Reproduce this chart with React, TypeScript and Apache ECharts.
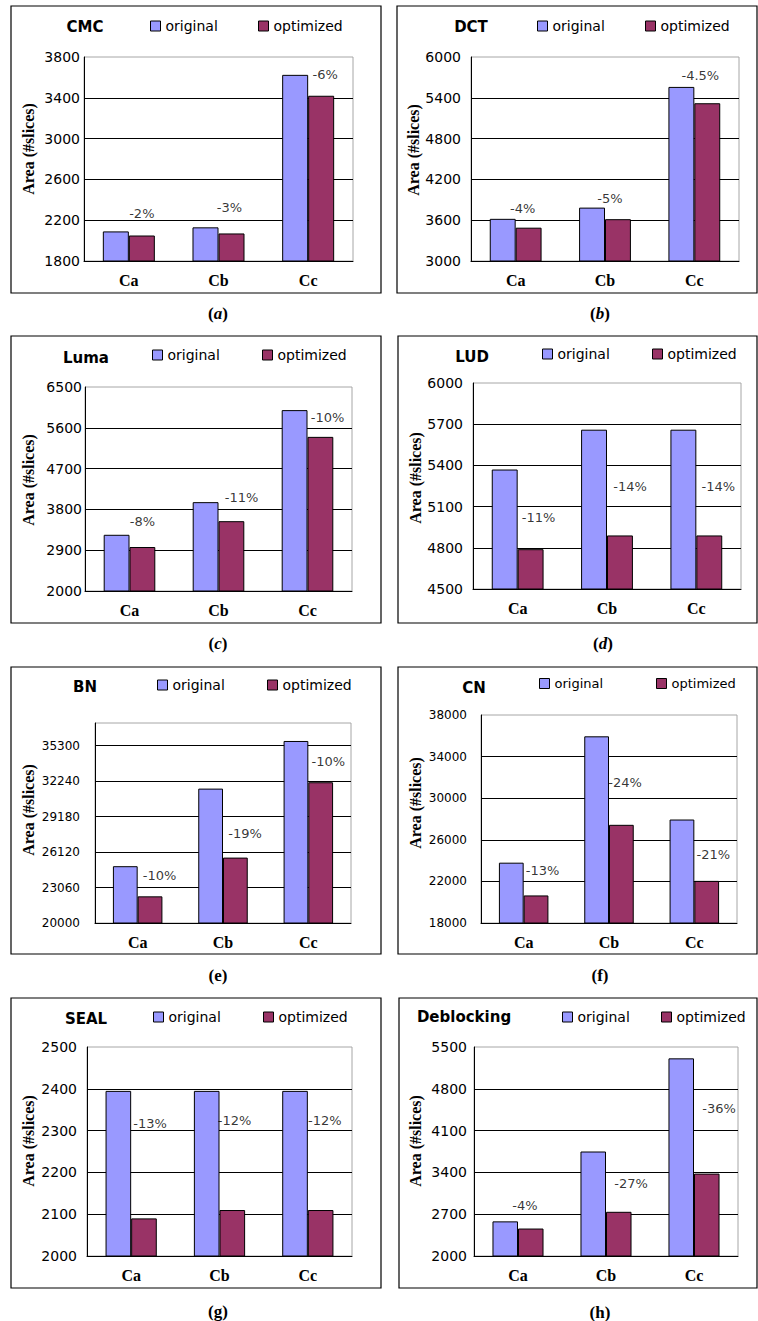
import React, { useEffect, useRef } from "react";
import * as echarts from "echarts";

// ---------- data ----------
const categories = ["Ca", "Cb", "Cc"];
const seriesNames = ["original", "optimized"];
const titles = ["CMC", "DCT", "Luma", "LUD", "BN", "CN", "SEAL", "Deblocking"];
const captionLetters = ["a", "b", "c", "d", "e", "f", "g", "h"];

const cmcOriginal = [2090, 2130, 3625];
const cmcOptimized = [2050, 2070, 3420];
const cmcChange = ["-2%", "-3%", "-6%"];

const dctOriginal = [3620, 3785, 5560];
const dctOptimized = [3490, 3615, 5320];
const dctChange = ["-4%", "-5%", "-4.5%"];

const lumaOriginal = [3240, 3960, 5990];
const lumaOptimized = [2970, 3540, 5400];
const lumaChange = ["-8%", "-11%", "-10%"];

const ludOriginal = [5370, 5660, 5660];
const ludOptimized = [4790, 4890, 4890];
const ludChange = ["-11%", "-14%", "-14%"];

const bnOriginal = [24900, 31590, 35700];
const bnOptimized = [22300, 25640, 32140];
const bnChange = ["-10%", "-19%", "-10%"];

const cnOriginal = [23800, 35950, 27950];
const cnOptimized = [20650, 27440, 22050];
const cnChange = ["-13%", "-24%", "-21%"];

const sealOriginal = [2395, 2395, 2395];
const sealOptimized = [2090, 2110, 2110];
const sealChange = ["-13%", "-12%", "-12%"];

const deblockOriginal = [2580, 3750, 5310];
const deblockOptimized = [2460, 2740, 3380];
const deblockChange = ["-4%", "-27%", "-36%"];

// value at which each percentage annotation sits
const cmcLabelAt = [2270, 2320, 3633];
const dctLabelAt = [3765, 3912, 5735];
const lumaLabelAt = [3544, 4052, 5838];
const ludLabelAt = [5017, 5243, 5243];
const bnLabelAt = [24140, 27760, 33890];
const cnLabelAt = [23010, 31480, 24550];
const sealLabelAt = [2318, 2325, 2325];
const deblockLabelAt = [2854, 3206, 4462];

// y-axis ranges
const yMin = [1800, 3000, 2000, 4500, 20000, 18000, 2000, 2000];
const yMax = [3800, 6000, 6500, 6000, 37250, 38000, 2500, 5500];
const yStep = [400, 600, 900, 300, 3060, 4000, 100, 700];

const originals = [cmcOriginal, dctOriginal, lumaOriginal, ludOriginal, bnOriginal, cnOriginal, sealOriginal, deblockOriginal];
const optimizeds = [cmcOptimized, dctOptimized, lumaOptimized, ludOptimized, bnOptimized, cnOptimized, sealOptimized, deblockOptimized];
const changes = [cmcChange, dctChange, lumaChange, ludChange, bnChange, cnChange, sealChange, deblockChange];
const labelAts = [cmcLabelAt, dctLabelAt, lumaLabelAt, ludLabelAt, bnLabelAt, cnLabelAt, sealLabelAt, deblockLabelAt];

// ---------- layout (pixels) ----------
const frames = [
  [11, 6, 370, 287], [397, 6, 360, 287],
  [11, 336, 370, 287], [398, 336, 359, 287],
  [11, 667, 370, 287], [398, 667, 359, 287],
  [11, 998, 370, 290], [399, 998, 358, 290],
];
const grids = [
  [84, 57, 269, 204], [471, 57, 268, 204],
  [85, 387, 267, 204], [473, 383, 268, 206],
  [95, 723, 256, 200], [481, 715, 256, 208],
  [87, 1047, 265, 209], [474, 1047, 264, 209],
];
const titlePos = [[85, 27], [471, 27], [86, 358], [472, 357], [85, 687], [474, 688], [86, 1019], [464, 1017]];
const legendPos = [
  [150, 258, 27], [537, 645, 27],
  [152, 262, 356], [542, 652, 355],
  [157, 267, 686], [539, 656, 685],
  [153, 263, 1018], [562, 661, 1018],
];
const yNamePos = [[28, 149], [413, 150], [28, 480], [415, 478], [28, 810], [415, 803], [28, 1141], [415, 1141]];
const captionPos = [[218, 313], [600, 313], [218, 643], [603, 643], [218, 975], [600, 975], [218, 1311], [600, 1312]];
const tickFont = [14, 14, 14, 14, 12, 12, 14, 14];
const tickMargin = [4, 10, 3, 10, 15, 14, 10, 7];
const legendFont = [14, 14, 14, 14, 14, 13, 14, 14];
const labelDx = [
  [13, 11, 17], [7, 5, 6], [13, 23, 20], [21, 23, 22],
  [22, 22, 20], [19, 16, 19], [19, 15, 17], [7, 25, 25],
];

const COLORS = ["#9999ff", "#993366"];
const SANS = "DejaVu Sans";
const SERIF = "Liberation Serif";

function buildOption() {
  const grid: any[] = [];
  const xAxis: any[] = [];
  const yAxis: any[] = [];
  const series: any[] = [];
  const legend: any[] = [];
  const graphic: any[] = [];

  for (let i = 0; i < 8; i++) {
    const [gl, gt, gw, gh] = grids[i];
    grid.push({
      left: gl, top: gt, width: gw, height: gh,
      show: true, borderColor: "#a6a6a6", borderWidth: 1, backgroundColor: "transparent",
    });
    xAxis.push({
      gridIndex: i, type: "category", data: categories,
      axisLine: { show: true, onZero: false, lineStyle: { color: "#000", width: 1 } },
      axisTick: { show: false },
      axisLabel: { fontFamily: SERIF, fontWeight: "bold", fontSize: 16, color: "#000", margin: 11 },
      splitLine: { show: false },
    });
    yAxis.push({
      gridIndex: i, type: "value", min: yMin[i], max: yMax[i], interval: yStep[i],
      axisLine: { show: true, lineStyle: { color: "#000", width: 1 } },
      axisTick: { show: false },
      axisLabel: {
        fontFamily: SANS, fontSize: tickFont[i], color: "#000", margin: tickMargin[i],
        showMaxLabel: i !== 4, formatter: (v: number) => String(v),
      },
      splitLine: { show: true, showMaxLine: false, showMinLine: false, lineStyle: { color: "#000", width: 1 } },
    });
    [originals[i], optimizeds[i]].forEach((vals, k) => {
      series.push({
        type: "bar", name: seriesNames[k], xAxisIndex: i, yAxisIndex: i, data: vals,
        barGap: "0%", barCategoryGap: "42%",
        itemStyle: { color: COLORS[k], borderColor: "#000", borderWidth: 1 },
      });
    });
    const ch = changes[i];
    series.push({
      type: "scatter", xAxisIndex: i, yAxisIndex: i, silent: true, symbolSize: 1,
      itemStyle: { color: "rgba(0,0,0,0)" },
      data: labelAts[i].map((v, j) => ({ value: [j, v], label: { offset: [labelDx[i][j], 0] } })),
      label: {
        show: true, position: "inside", color: "#000", fontFamily: SANS, fontSize: 13,
        formatter: (p: any) => ch[p.dataIndex],
      },
    });
    const [lx1, lx2, ly] = legendPos[i];
    [lx1, lx2].forEach((lx, k) => {
      legend.push({
        data: [seriesNames[k]], left: lx, top: ly - 8, padding: 0,
        itemWidth: 10, itemHeight: 10, icon: "rect", selectedMode: false,
        itemStyle: { borderColor: "#000", borderWidth: 1 },
        textStyle: { fontFamily: SANS, fontSize: legendFont[i], color: "#000" },
      });
    });

    const [fx, fy, fw, fh] = frames[i];
    graphic.push({
      type: "rect", silent: true, shape: { x: fx, y: fy, width: fw, height: fh },
      style: { fill: "none", stroke: "#000", lineWidth: 1.2 },
    });
    graphic.push({
      type: "text", silent: true, x: titlePos[i][0], y: titlePos[i][1],
      style: {
        text: titles[i], fontFamily: SANS, fontWeight: "bold", fontSize: 15, fill: "#000",
        align: "center", verticalAlign: "middle", textAlign: "center", textVerticalAlign: "middle",
      },
    });
    graphic.push({
      type: "text", silent: true, x: yNamePos[i][0], y: yNamePos[i][1], rotation: Math.PI / 2,
      style: {
        text: "Area (#slices)", fontFamily: SERIF, fontWeight: "bold", fontSize: 16, fill: "#000",
        align: "center", verticalAlign: "middle", textAlign: "center", textVerticalAlign: "middle",
      },
    });
    const italic = i < 4;
    graphic.push({
      type: "text", silent: true, x: captionPos[i][0], y: captionPos[i][1],
      style: {
        text: "{p|(}{l|" + captionLetters[i] + "}{p|)}",
        align: "center", verticalAlign: "middle", textAlign: "center", textVerticalAlign: "middle",
        rich: {
          p: { fontFamily: SERIF, fontWeight: "bold", fontSize: 17, fill: "#000" },
          l: { fontFamily: SERIF, fontWeight: "bold", fontStyle: italic ? "italic" : "normal", fontSize: 17, fill: "#000" },
        },
      },
    });
  }

  return { animation: false, backgroundColor: "#fff", grid, xAxis, yAxis, series, legend, graphic };
}

export default function App() {
  const ref = useRef<HTMLDivElement>(null);
  useEffect(() => {
    if (!ref.current) return;
    const chart = echarts.init(ref.current, undefined, { renderer: "svg" });
    chart.setOption(buildOption() as any);
    return () => chart.dispose();
  }, []);
  return (
    <div
      ref={ref}
      style={{ position: "absolute", left: 0, top: 0, width: 758, height: 1321, background: "#fff" }}
    />
  );
}
